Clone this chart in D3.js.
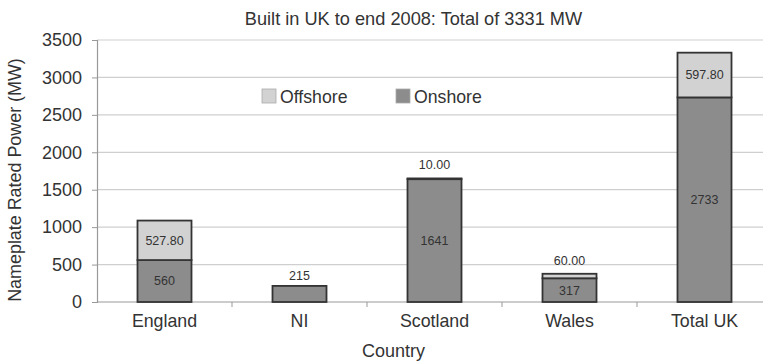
<!DOCTYPE html>
<html><head><meta charset="utf-8">
<script src="https://cdn.jsdelivr.net/npm/d3@7"></script>
<style>body{margin:0;background:#fff}svg{display:block;font-family:"Liberation Sans",Arial,Helvetica,sans-serif}</style>
</head><body><svg id="c" width="765" height="363"></svg>
<script>
const categories = ["England","NI","Scotland","Wales","Total UK"];
const onshore = [560, 215, 1641, 317, 2733];
const offshore = [527.8, 0, 10, 60, 597.8];
const onshoreLabels = ["560","215","1641","317","2733"];
const offshoreLabels = ["527.80","","10.00","60.00","597.80"];
const yTicks = [0,500,1000,1500,2000,2500,3000,3500];
const title = "Built in UK to end 2008: Total of 3331 MW";

const svg = d3.select("#c");
const m = {l:97, r:772, t:40, b:302};
const x = d3.scaleBand().domain(categories).range([m.l, m.r]).paddingInner(0).paddingOuter(0);
const y = d3.scaleLinear().domain([0,3500]).range([m.b, m.t]);
const bw = x.bandwidth()*0.4;
const textCol = "#333";
const FF = "Liberation Sans, Arial, sans-serif";

// gridlines
svg.append("g").selectAll("line").data(yTicks.slice(1)).join("line")
  .attr("x1", m.l).attr("x2", 763).attr("y1", d=>y(d)).attr("y2", d=>y(d))
  .attr("stroke", "#cfcfcf").attr("stroke-width", 1.2);

// y axis
const ya = svg.append("g").attr("transform", `translate(${m.l},0)`)
  .call(d3.axisLeft(y).tickValues(yTicks).tickSize(5).tickPadding(10).tickFormat(d3.format("d")));
ya.select(".domain").attr("stroke", "#999").attr("stroke-width", 1.2);
ya.selectAll(".tick line").attr("stroke", "#999");
ya.selectAll("text").attr("font-size", 18).attr("fill", textCol).attr("font-family", FF);

// x axis
const xa = svg.append("g").attr("transform", `translate(0,${m.b})`)
  .call(d3.axisBottom(x).tickSize(0).tickPadding(12));
xa.select(".domain").remove();
xa.selectAll("text").attr("font-size", 17.8).attr("fill", textCol).attr("font-family", FF);
svg.append("line").attr("x1", m.l).attr("x2", 763).attr("y1", m.b).attr("y2", m.b).attr("stroke", "#999").attr("stroke-width", 1.2);
svg.append("g").selectAll("line").data(categories.slice(1)).join("line")
  .attr("x1", d=>x(d)).attr("x2", d=>x(d)).attr("y1", m.b).attr("y2", m.b+5).attr("stroke", "#999");

// bars
const data = categories.map((c,i)=>({c, on:onshore[i], off:offshore[i], onL:onshoreLabels[i], offL:offshoreLabels[i]}));
const g = svg.append("g");
data.forEach(d=>{
  const cx = x(d.c) + x.bandwidth()/2;
  g.append("rect").attr("x", cx-bw/2).attr("width", bw)
    .attr("y", y(d.on)).attr("height", y(0)-y(d.on))
    .attr("fill", "#8c8c8c").attr("stroke", "#333").attr("stroke-width", 1.8);
  if (d.off > 0) {
    g.append("rect").attr("x", cx-bw/2).attr("width", bw)
      .attr("y", y(d.on+d.off)).attr("height", y(d.on)-y(d.on+d.off))
      .attr("fill", "#d2d2d2").attr("stroke", "#333").attr("stroke-width", 1.8);
  }
  const top = y(d.on+d.off);
  const onH = y(0)-y(d.on), offH = y(d.on)-y(d.on+d.off);
  if (onH > 20) {
    g.append("text").attr("x", cx).attr("y", (y(d.on)+y(0))/2).attr("dy","0.35em")
      .attr("text-anchor","middle").attr("font-size",12.5).attr("fill","#333").text(d.onL);
  } else {
    g.append("text").attr("x", cx).attr("y", top-6)
      .attr("text-anchor","middle").attr("font-size",12.5).attr("fill","#333").text(d.onL);
  }
  if (d.off > 0) {
    if (offH > 20) {
      g.append("text").attr("x", cx).attr("y", (y(d.on)+top)/2).attr("dy","0.35em")
        .attr("text-anchor","middle").attr("font-size",12.5).attr("fill","#333").text(d.offL);
    } else {
      g.append("text").attr("x", cx).attr("y", top-9)
        .attr("text-anchor","middle").attr("font-size",12.5).attr("fill","#333").text(d.offL);
    }
  }
});

// title
svg.append("text").attr("x", 413.5).attr("y", 25).attr("text-anchor","middle")
  .attr("font-size", 18.2).attr("fill", textCol).text(title);
// axis titles
svg.append("text").attr("x", 393.5).attr("y", 357).attr("text-anchor","middle")
  .attr("font-size", 18).attr("fill", textCol).text("Country");
svg.append("text").attr("transform","translate(20.5,180) rotate(-90)").attr("text-anchor","middle")
  .attr("font-size", 17.9).attr("fill", textCol).text("Nameplate Rated Power (MW)");

// legend
const legend = [{n:"Offshore", c:"#d2d2d2", x:262},{n:"Onshore", c:"#8c8c8c", x:396}];
const lg = svg.append("g");
legend.forEach(l=>{
  lg.append("rect").attr("x", l.x).attr("y", 89).attr("width", 14).attr("height", 14)
    .attr("fill", l.c).attr("stroke", "#aaa").attr("stroke-width", 0.8);
  lg.append("text").attr("x", l.x+18).attr("y", 103).attr("font-size", 17.7).attr("fill", textCol).text(l.n);
});
</script></body></html>
